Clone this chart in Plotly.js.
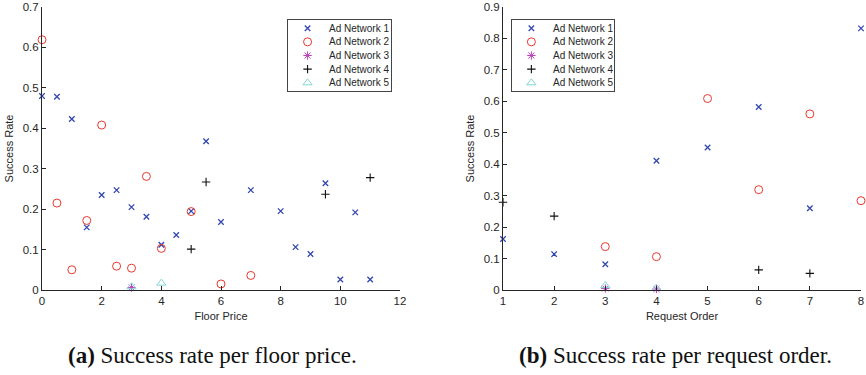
<!DOCTYPE html>
<html>
<head>
<meta charset="utf-8">
<script src="https://cdn.plot.ly/plotly-3.0.1.min.js"></script>
<style>
  html, body { margin: 0; padding: 0; background: #fff; }
  #chart { width: 866px; height: 375px; }
</style>
</head>
<body>
<div id="chart"></div>
<script>
// (a) success rate against floor price
const priceNet1X = [0, 0.5, 1, 1.5, 2, 2.5, 3, 3.5, 4, 4.5, 5, 5.5, 6, 7, 8, 8.5, 9, 9.5, 10, 10.5, 11];
const priceNet1Y = [0.480, 0.478, 0.423, 0.155, 0.235, 0.247, 0.205, 0.181, 0.112, 0.136, 0.195, 0.368, 0.168, 0.247, 0.195, 0.106, 0.089, 0.264, 0.026, 0.192, 0.026];
const priceNet2X = [0, 0.5, 1, 1.5, 2, 2.5, 3, 3.5, 4, 5, 6, 7];
const priceNet2Y = [0.619, 0.215, 0.050, 0.172, 0.408, 0.059, 0.054, 0.281, 0.103, 0.194, 0.015, 0.036];
const priceNet3X = [3];
const priceNet3Y = [0.006];
const priceNet4X = [5, 5.5, 9.5, 11];
const priceNet4Y = [0.101, 0.267, 0.237, 0.278];
const priceNet5X = [3, 4];
const priceNet5Y = [0.008, 0.017];

// (b) success rate against request order
const orderNet1X = [1, 2, 3, 4, 5, 6, 7, 8];
const orderNet1Y = [0.162, 0.114, 0.082, 0.411, 0.453, 0.582, 0.260, 0.832];
const orderNet2X = [3, 4, 5, 6, 7, 8];
const orderNet2Y = [0.138, 0.106, 0.609, 0.319, 0.560, 0.284];
const orderNet3X = [3, 4];
const orderNet3Y = [0.005, 0.003];
const orderNet4X = [1, 2, 6, 7];
const orderNet4Y = [0.279, 0.235, 0.064, 0.053];
const orderNet5X = [3, 4];
const orderNet5Y = [0.014, 0.006];

const seriesNames = ['Ad Network 1', 'Ad Network 2', 'Ad Network 3', 'Ad Network 4', 'Ad Network 5'];
const captions = ['<b>(a)</b> Success rate per floor price.', '<b>(b)</b> Success rate per request order.'];

const styles = [
  { symbol: 'x-thin-open', color: '#3346b0', size: 5.5, width: 1.3 },
  { symbol: 'circle-open', color: '#e8382f', size: 8, width: 1 },
  { symbol: 'asterisk-open', color: '#c040c0', size: 7, width: 1 },
  { symbol: 'cross-thin-open', color: '#111111', size: 6, width: 1.1 },
  { symbol: 'triangle-up-open', color: '#7fd8d8', size: 8, width: 1 }
];

const W = 866, H = 375;
const sansFont = 'Liberation Sans, Arial, sans-serif';

function markerOf(i) {
  const s = styles[i];
  return { symbol: s.symbol, color: s.color, size: s.size, line: { color: s.color, width: s.width } };
}

function makeTrace(i, xs, ys, xa, ya) {
  return {
    type: 'scatter', mode: 'markers', x: xs, y: ys,
    xaxis: xa, yaxis: ya, name: seriesNames[i], cliponaxis: false,
    showlegend: false, marker: markerOf(i)
  };
}

const left = [[priceNet1X, priceNet1Y], [priceNet2X, priceNet2Y], [priceNet3X, priceNet3Y], [priceNet4X, priceNet4Y], [priceNet5X, priceNet5Y]];
const right = [[orderNet1X, orderNet1Y], [orderNet2X, orderNet2Y], [orderNet3X, orderNet3Y], [orderNet4X, orderNet4Y], [orderNet5X, orderNet5Y]];

const traces = [];
left.forEach((d, i) => traces.push(makeTrace(i, d[0], d[1], 'x', 'y')));
right.forEach((d, i) => traces.push(makeTrace(i, d[0], d[1], 'x2', 'y2')));

// Boxed legends: each sits on its own small axis pair, one row per series
const rows = seriesNames.map((_, i) => i + 1);
const legendKeyX = 0.19;
const legendTextX = 0.38;
const legendAnnotations = [];
[['x3', 'y3'], ['x4', 'y4']].forEach(([xa, ya]) => {
  rows.forEach((r, i) => {
    traces.push({
      type: 'scatter', mode: 'markers', x: [legendKeyX], y: [r],
      xaxis: xa, yaxis: ya, showlegend: false, cliponaxis: false,
      marker: markerOf(i), hoverinfo: 'skip'
    });
    legendAnnotations.push({
      text: seriesNames[i], xref: xa, yref: ya, x: legendTextX, y: r,
      xanchor: 'left', yanchor: 'middle', showarrow: false,
      font: { family: sansFont, size: 10, color: '#262626' }
    });
  });
});

const yDom = [(H - 290) / H, (H - 7) / H];
const legendYDom = [(H - 91) / H, (H - 20) / H];
const tickFont = { family: sansFont, size: 11.5, color: '#262626' };

function axis(dom, range, dtick, title, anchor) {
  return {
    domain: dom, range: range, dtick: dtick, tick0: range[0], anchor: anchor,
    showgrid: false, zeroline: false, showline: true,
    linecolor: '#262626', linewidth: 1,
    ticks: 'inside', ticklen: 4, tickcolor: '#262626', tickwidth: 1,
    tickfont: tickFont,
    title: { text: title, font: { family: sansFont, size: 11, color: '#262626' }, standoff: 6 }
  };
}

function legendAxis(dom, range, anchor) {
  return {
    domain: dom, range: range, anchor: anchor, fixedrange: true,
    showgrid: false, zeroline: false, showticklabels: false, ticks: '',
    showline: true, mirror: true, linecolor: '#444444', linewidth: 1
  };
}

const layout = {
  width: W, height: H,
  margin: { l: 0, r: 0, t: 0, b: 0 },
  paper_bgcolor: '#ffffff', plot_bgcolor: '#ffffff',
  showlegend: false,
  xaxis: axis([42 / W, 400 / W], [0, 12], 2, 'Floor Price', 'y'),
  yaxis: axis(yDom, [0, 0.7], 0.1, 'Success Rate', 'x'),
  xaxis2: axis([503 / W, 861 / W], [1, 8], 1, 'Request Order', 'y2'),
  yaxis2: axis(yDom, [0, 0.9], 0.1, 'Success Rate', 'x2'),
  xaxis3: legendAxis([288 / W, 391 / W], [0, 1], 'y3'),
  yaxis3: legendAxis(legendYDom, [5.6, 0.4], 'x3'),
  xaxis4: legendAxis([512 / W, 614 / W], [0, 1], 'y4'),
  yaxis4: legendAxis(legendYDom, [5.6, 0.4], 'x4'),
  annotations: legendAnnotations.concat([
    { text: captions[0], xref: 'paper', yref: 'paper', x: 212 / W, y: (H - 355) / H,
      xanchor: 'center', yanchor: 'middle', showarrow: false,
      font: { family: 'Liberation Serif, Times New Roman, serif', size: 23, color: '#111111' } },
    { text: captions[1], xref: 'paper', yref: 'paper', x: 675 / W, y: (H - 355) / H,
      xanchor: 'center', yanchor: 'middle', showarrow: false,
      font: { family: 'Liberation Serif, Times New Roman, serif', size: 23, color: '#111111' } }
  ])
};

Plotly.newPlot('chart', traces, layout, { displayModeBar: false, staticPlot: true });
</script>
</body>
</html>
